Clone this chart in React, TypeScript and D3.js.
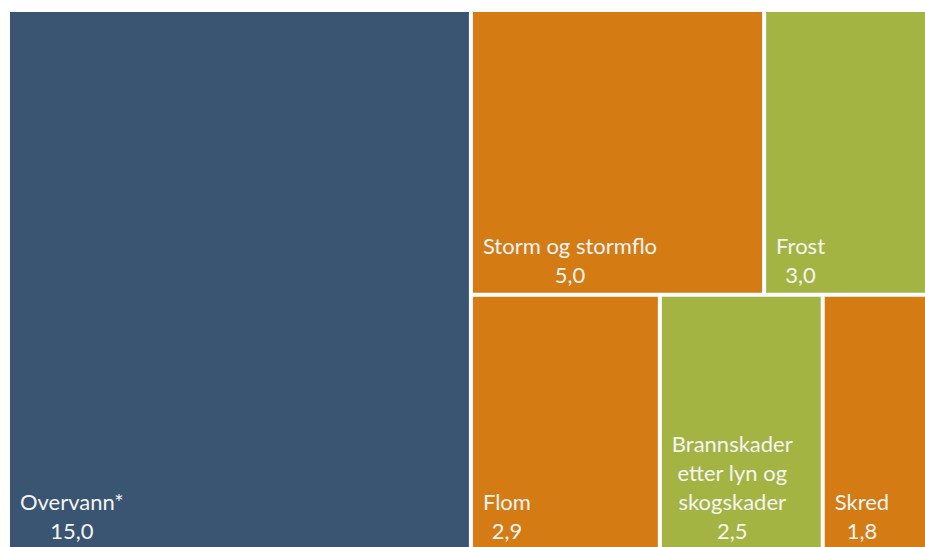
import * as d3 from "d3";
import { useEffect, useRef } from "react";

const categories = ["Overvann*", "Storm og stormflo", "Frost", "Flom", "Brannskader etter lyn og skogskader", "Skred"];
const labelLines = [
  ["Overvann*"],
  ["Storm og stormflo"],
  ["Frost"],
  ["Flom"],
  ["Brannskader", "etter lyn og", "skogskader"],
  ["Skred"],
];
const values = [15.0, 5.0, 3.0, 2.9, 2.5, 1.8];
const colors = ["#3A5571", "#D57B14", "#A4B443", "#D57B14", "#A4B443", "#D57B14"];

const width = 925;
const height = 547;
const margin = { left: 10, top: 12 };
const plotW = 928;
const plotH = 537;
const fontSize = 22;
const lineH = 29;

type Leaf = { name: string; lines: string[]; value: number; color: string };

const leaves: Leaf[] = categories.map((c, i) => ({
  name: c,
  lines: labelLines[i],
  value: values[i],
  color: colors[i],
}));

const App = () => {
  const ref = useRef<SVGSVGElement>(null);

  useEffect(() => {
    if (!ref.current) return;
    const svg = d3.select(ref.current);
    svg.selectAll("*").remove();

    const root = d3
      .hierarchy<any>({ children: leaves })
      .sum((d: any) => d.value ?? 0);

    // plain squarify (ratio 1) gives the same rows as the original
    d3.treemap<any>()
      .tile(d3.treemapSquarify.ratio(1))
      .size([plotW, plotH])
      .paddingInner(4)(root);

    const g = svg.append("g").attr("transform", `translate(${margin.left},${margin.top})`);

    const cell = g
      .selectAll("g.cell")
      .data(root.leaves() as d3.HierarchyRectangularNode<any>[])
      .join("g")
      .attr("class", "cell");

    cell
      .append("rect")
      .attr("x", (d) => d.x0)
      .attr("y", (d) => d.y0)
      .attr("width", (d) => d.x1 - d.x0)
      .attr("height", (d) => d.y1 - d.y0)
      .attr("fill", (d) => d.data.color);

    const fmt = (v: number) => d3.format(".1f")(v).replace(".", ",");

    cell.each(function (d) {
      const lines: string[] = [...d.data.lines, fmt(d.data.value)];
      const txt = d3
        .select(this)
        .append("text")
        .attr("fill", "#F4F4F4")
        .attr("font-family", "Lato, 'Open Sans', sans-serif")
        .attr("font-size", fontSize)
        .attr("text-anchor", "middle");
      const spans = txt
        .selectAll("tspan")
        .data(lines)
        .join("tspan")
        .attr("y", (_, i) => d.y1 - 10 - (lines.length - 1 - i) * lineH)
        .text((t) => t);
      let maxW = 0;
      spans.each(function () {
        maxW = Math.max(maxW, (this as SVGTSpanElement).getComputedTextLength());
      });
      spans.attr("x", d.x0 + 10 + maxW / 2);
    });
  }, []);

  return (
    <svg
      ref={ref}
      width={width}
      height={height}
      viewBox={`0 0 ${width} ${height}`}
      style={{ position: "absolute", left: 0, top: 0 }}
    />
  );
};

export default App;
